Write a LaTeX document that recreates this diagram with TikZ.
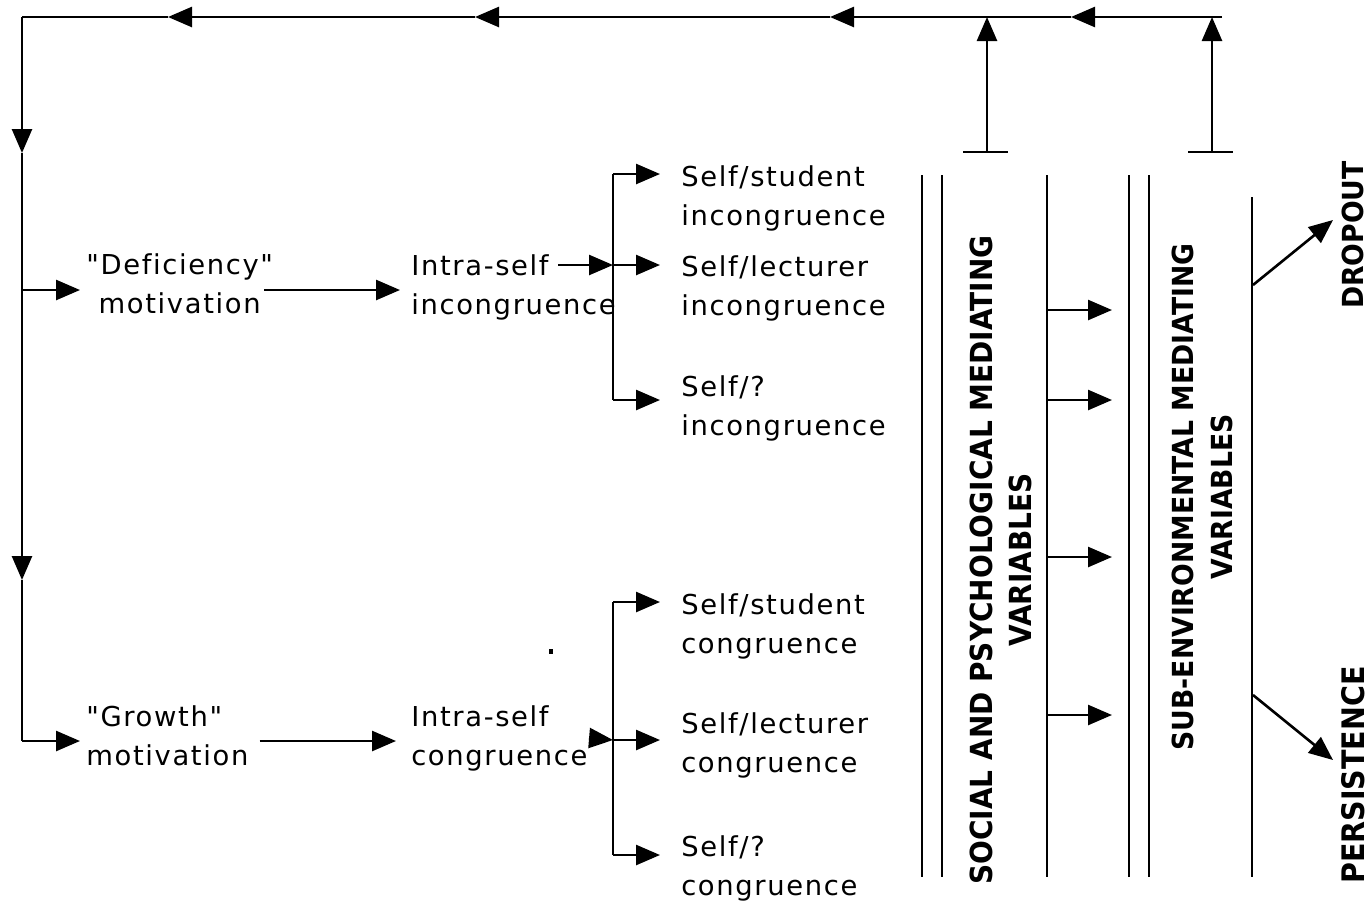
\documentclass[tikz,border=0pt]{standalone}
\usepackage{fontspec}
\setmainfont{DejaVu Sans}[LetterSpace=6, Ligatures={TeXOff,CommonOff}]
\newfontfamily\capsfont{DejaVu Sans}[FakeStretch=0.92]
\usetikzlibrary{arrows.meta}

\begin{document}
\begin{tikzpicture}[
		x=0.5pt, y=-0.5pt,
		line width=1.3pt,
		lbl/.style={font=\fontsize{13.7}{19.5}\selectfont, inner sep=0pt, align=left, anchor=north west},
		caps/.style={font=\capsfont\bfseries\fontsize{#1}{19.5}\selectfont, inner sep=0pt, align=center, rotate=90},
		caps/.default=14.5,
		arr/.style={-{Triangle[length=12pt,width=10pt]}},
		bar/.style={line width=1.4pt}
	]
	\useasboundingbox (0,0) rectangle (1372,906);

	% text nodes
	\node[lbl, align=center] (defic) at (85,252) {"Deficiency"\\motivation};
	\node[lbl] (growth) at (85,704) {"Growth"\\motivation};
	\node[lbl] (intra1) at (410,253) {Intra-self\\incongruence};
	\node[lbl] (intra2) at (410,704) {Intra-self\\congruence};

	\node[lbl] (ss1) at (680,164) {Self/student\\incongruence};
	\node[lbl] (sl1) at (680,254) {Self/lecturer\\incongruence};
	\node[lbl] (sq1) at (680,374) {Self/?\\incongruence};
	\node[lbl] (ss2) at (680,592) {Self/student\\congruence};
	\node[lbl] (sl2) at (680,711) {Self/lecturer\\congruence};
	\node[lbl] (sq2) at (680,834) {Self/?\\congruence};

	\node[caps=15.2] (social) at (1001,560) {SOCIAL AND PSYCHOLOGICAL MEDIATING\\VARIABLES};
	\node[caps] (subenv) at (1202,497) {SUB-ENVIRONMENTAL MEDIATING\\VARIABLES};
	\node[caps] (dropout) at (1353,235) {DROPOUT};
	\node[caps=15.5] (persist) at (1353,775) {PERSISTENCE};

	% return loop
	\coordinate (tr) at (1222,17);
	\coordinate (t4) at (1071,17);
	\coordinate (t3) at (830,17);
	\coordinate (t2) at (475,17);
	\coordinate (t1) at (168,17);
	\coordinate (tl) at (22,17);
	\coordinate (d1) at (22,153);
	\coordinate (d2) at (22,580);
	\coordinate (lb1) at (22,290);
	\coordinate (bl) at (22,741);

	\draw[arr] (tr) -- (t4);
	\draw[arr] (t4) -- (t3);
	\draw[arr] (t3) -- (t2);
	\draw[arr] (t2) -- (t1);
	\draw (t1) -- (tl);
	\draw[arr] (tl) -- (d1);
	\draw[arr] (d1) -- (d2);
	\draw (d2) -- (bl);

	\draw[arr, shorten >=2.5pt] (lb1) -- (lb1 -| defic.west);
	\draw[arr, shorten >=2.5pt] (bl) -- (bl -| growth.west);
	\draw[arr, shorten <=-5pt, shorten >=5pt] (defic.east |- lb1) -- (intra1.west |- lb1);
	\draw[arr, shorten <=5pt, shorten >=7pt] (growth.east |- bl) -- (intra2.west |- bl);

	% forks
	\coordinate (i1) at (558,265);
	\coordinate (k1) at (613,265);
	\coordinate (k1a) at (613,174);
	\coordinate (k1c) at (613,400);
	\draw[arr] (i1) -- (k1);
	\draw (k1a) -- (k1c);
	\draw[arr, shorten >=10pt] (k1a) -- (k1a -| ss1.west);
	\draw[arr, shorten >=10pt] (k1) -- (k1 -| sl1.west);
	\draw[arr, shorten >=10pt] (k1c) -- (k1c -| sq1.west);

	\coordinate (i2) at (589,738);
	\coordinate (k2) at (613,740);
	\coordinate (k2a) at (613,602);
	\coordinate (k2c) at (613,855);
	\draw[arr] (i2) -- (k2);
	\draw (k2a) -- (k2c);
	\draw[arr, shorten >=10pt] (k2a) -- (k2a -| ss2.west);
	\draw[arr, shorten >=10pt] (k2) -- (k2 -| sl2.west);
	\draw[arr, shorten >=10pt] (k2c) -- (k2c -| sq2.west);

	% mediating bars
	\foreach \x in {922, 942, 1047, 1129, 1149} {
			\draw[bar] (\x,175) -- (\x,877);
		}
	\draw[bar] (1252,197) -- (1252,877);

	\foreach \y in {310, 400, 557, 715} {
			\draw[arr] (1047,\y) -- (1112,\y);
		}

	% feedback from the bars
	\coordinate (u1) at (987,152);
	\coordinate (u2) at (1212,152);
	\draw (963,152) -- (1008,152);
	\draw (1188,152) -- (1233,152);
	\draw[arr] (u1) -- (u1 |- tr);
	\draw[arr] (u2) -- (u2 |- tr);

	% outcomes
	\coordinate (o1) at (1253,285);
	\coordinate (o2) at (1253,695);
	\coordinate (e1) at (1333,220);
	\coordinate (e2) at (1333,760);
	\draw[arr] (o1) -- (e1);
	\draw[arr] (o2) -- (e2);

	\fill (549,649) rectangle (553,654);

\end{tikzpicture}
\end{document}
